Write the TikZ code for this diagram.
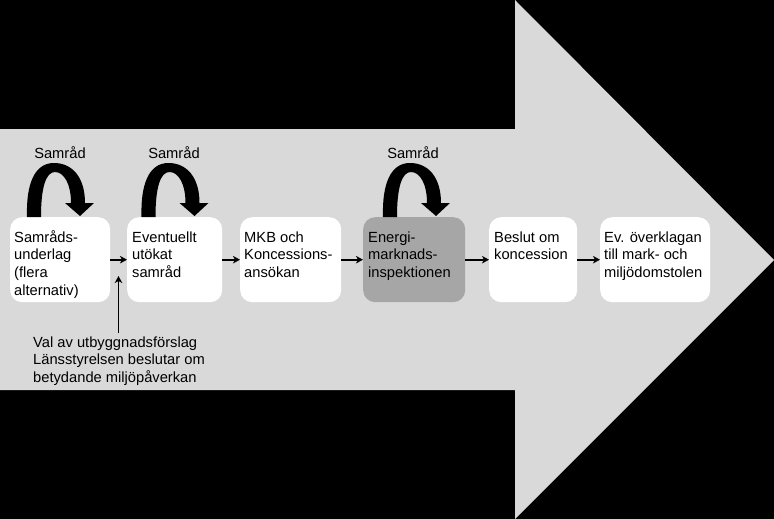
\documentclass[tikz,border=0pt]{standalone}
\usepackage{fontspec}
\setmainfont{Liberation Sans}
\usetikzlibrary{arrows.meta}
\definecolor{bgblack}{HTML}{000000}
\definecolor{arrowgray}{HTML}{D9D9D9}
\definecolor{darkbox}{HTML}{A6A6A6}
\begin{document}
\begin{tikzpicture}[x=1pt,y=-1pt,
  stagebox/.style={fill=white, draw=none, rounded corners=12pt, inner sep=0pt,
    minimum height=85pt, anchor=north west},
  txt/.style={inner sep=0pt, anchor=north west, align=left,
    font=\fontsize{14.7}{17.6}\selectfont},
  conn/.style={line width=1.8pt, -{Stealth[length=7pt,width=7.5pt,inset=2pt]}},
  samloop/.pic={
    \fill[black] (-7,0) .. controls (-8,-32) and (0,-54) .. (20,-54)
      .. controls (38,-54) and (51,-40) .. (51,-14)
      -- (60,-14) -- (46,-1) -- (31,-14) -- (37,-14)
      .. controls (37,-33) and (30,-45) .. (21,-45)
      .. controls (12,-45) and (7,-30) .. (7,0) -- cycle;
  }]
\useasboundingbox (0,0) rectangle (774,519);
\fill[bgblack] (0,0) rectangle (774,519);
% big arrow
\fill[arrowgray] (0,129) -- (515,129) -- (515,0) -- (774,260) -- (515,519) -- (515,390) -- (0,390) -- cycle;

% boxes
\node[stagebox, minimum width=100pt] (b1) at (10,217) {};
\node[stagebox, minimum width=95pt] (b2) at (127,217) {};
\node[stagebox, minimum width=101pt] (b3) at (240,217) {};
\node[stagebox, minimum width=102pt, fill=darkbox] (b4) at (363,217) {};
\node[stagebox, minimum width=88pt] (b5) at (489,217) {};
\node[stagebox, minimum width=110pt] (b6) at (600,217) {};

% box texts
\node[txt] (t1) at (14,230) {\rule{0pt}{12pt}Samråds-\\underlag\\(flera\\alternativ)};
\node[txt] (t2) at (132,230) {\rule{0pt}{12pt}Eventuellt\\utökat\\samråd};
\node[txt] (t3) at (244,230) {\rule{0pt}{12pt}MKB och\\Koncessions-\\ansökan};
\node[txt] (t4) at (368,230) {\rule{0pt}{12pt}Energi-\\marknads-\\inspektionen};
\node[txt] (t5) at (494,230) {\rule{0pt}{12pt}Beslut om\\koncession};
\node[txt] (t6) at (604,230) {\rule{0pt}{12pt}Ev. överklagan\\till mark- och\\miljödomstolen};

% connectors
\draw[conn] (b1.east) -- (b2.west);
\draw[conn] (b2.east) -- (b3.west);
\draw[conn] (b3.east) -- (b4.west);
\draw[conn] (b4.east) -- (b5.west);
\draw[conn] (b5.east) -- (b6.west);

% bottom note and vertical arrow
\node[txt] (note) at (33,335) {\rule{0pt}{12pt}Val av utbyggnadsförslag\\Länsstyrelsen beslutar om\\betydande miljöpåverkan};
\coordinate (vt) at (118.5,276);
\draw[conn] ([yshift=2pt]note.north -| vt) -- (vt);

% Samråd loops
\pic at (34,217) {samloop};
\pic at (148.5,217) {samloop};
\pic at (390,217) {samloop};
\node[inner sep=0pt, anchor=base, font=\fontsize{14.7}{17.6}\selectfont] (s1) at (60,158) {Samråd};
\node[inner sep=0pt, anchor=base, font=\fontsize{14.7}{17.6}\selectfont] (s2) at (174,158) {Samråd};
\node[inner sep=0pt, anchor=base, font=\fontsize{14.7}{17.6}\selectfont] (s3) at (413,158) {Samråd};
\end{tikzpicture}
\end{document}
